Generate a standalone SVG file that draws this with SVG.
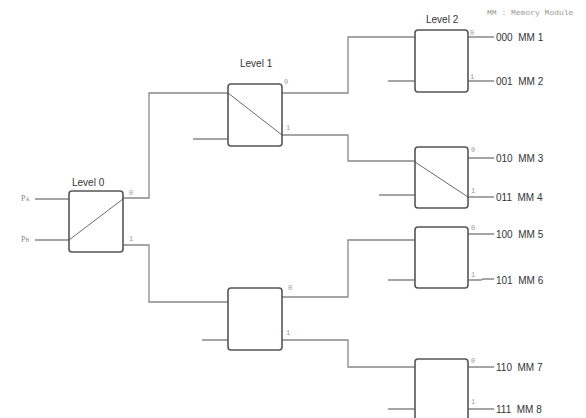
<svg xmlns="http://www.w3.org/2000/svg" width="586" height="418" viewBox="0 0 586 418">
<style>
.box{fill:#fff;stroke:#555;stroke-width:1.6}
.w{fill:none;stroke:#888;stroke-width:1.3}
.d{fill:none;stroke:#444;stroke-width:0.8}
.lv{font-family:"Liberation Sans",Arial,sans-serif;font-size:10px;fill:#333}
.mm{font-family:"Liberation Sans",Arial,sans-serif;font-size:10px;fill:#333;white-space:pre}
.p{font-family:"Liberation Mono","Courier New",monospace;font-size:7px;fill:#999}
.in{font-family:"Liberation Serif","Times New Roman",serif;font-size:8px;fill:#888}
</style>
<rect width="586" height="418" fill="#fff"/>
<text x="487" y="15" class="p" style="font-size:8px">MM : Memory Module</text>
<g id="connectors">
<path class="w" d="M35 199H69M35 240H69"/>
<path class="w" d="M123 198H149V93H228"/>
<path class="w" d="M123 245H149V302H228"/>
<path class="w" d="M193 139H228M202 340H228"/>
<path class="w" d="M282 93H348V37H415"/>
<path class="w" d="M282 135H348V161H415"/>
<path class="w" d="M282 297H348V240H415"/>
<path class="w" d="M282 340H348V367H415"/>
<path class="w" d="M388 81H415M379 195H415M388 280H415M388 409H415"/>
<path class="w" d="M468 37H494M468 81H494M468 158H494M468 197H494M468 234H494M468 280H481L483 279H494M468 367H494M468 409H494"/>
</g>
<g id="level0">
<rect class="box" x="69" y="191" width="54" height="61" rx="3"/>
<path class="d" d="M69 240L123 199"/>
<text x="72" y="186" class="lv">Level 0</text>
<text x="21" y="201" class="in">P<tspan font-size="5.5">A</tspan></text>
<text x="21" y="242" class="in">P<tspan font-size="5.5">B</tspan></text>
<text x="129" y="195" class="p">0</text>
<text x="129" y="241" class="p">1</text>
</g>
<g id="level1a">
<rect class="box" x="228" y="84" width="54" height="62" rx="3"/>
<path class="d" d="M228 93L282 135"/>
<text x="240" y="67" class="lv">Level 1</text>
<text x="284" y="84" class="p">0</text>
<text x="286" y="130" class="p">1</text>
</g>
<g id="level1b">
<rect class="box" x="228" y="288" width="54" height="62" rx="3"/>
<text x="288" y="290" class="p">0</text>
<text x="286" y="335" class="p">1</text>
</g>
<g id="level2a">
<rect class="box" x="415" y="30" width="53" height="62" rx="3"/>
<text x="426" y="23" class="lv">Level 2</text>
<text x="470" y="35" class="p">0</text>
<text x="470" y="79" class="p">1</text>
<text x="496" y="41" class="mm">000  MM 1</text>
<text x="496" y="85" class="mm">001  MM 2</text>
</g>
<g id="level2b">
<rect class="box" x="415" y="147" width="53" height="61" rx="3"/>
<path class="d" d="M415 162L468 197"/>
<text x="471" y="152" class="p">0</text>
<text x="471" y="193" class="p">1</text>
<text x="496" y="162" class="mm">010  MM 3</text>
<text x="496" y="201" class="mm">011  MM 4</text>
</g>
<g id="level2c">
<rect class="box" x="415" y="227" width="53" height="61" rx="3"/>
<text x="471" y="230" class="p">0</text>
<text x="471" y="277" class="p">1</text>
<text x="496" y="238" class="mm">100  MM 5</text>
<text x="496" y="284" class="mm">101  MM 6</text>
</g>
<g id="level2d">
<rect class="box" x="415" y="359" width="53" height="62" rx="3"/>
<text x="471" y="363" class="p">0</text>
<text x="471" y="404" class="p">1</text>
<text x="496" y="371" class="mm">110  MM 7</text>
<text x="496" y="413" class="mm">111  MM 8</text>
</g>
</svg>
